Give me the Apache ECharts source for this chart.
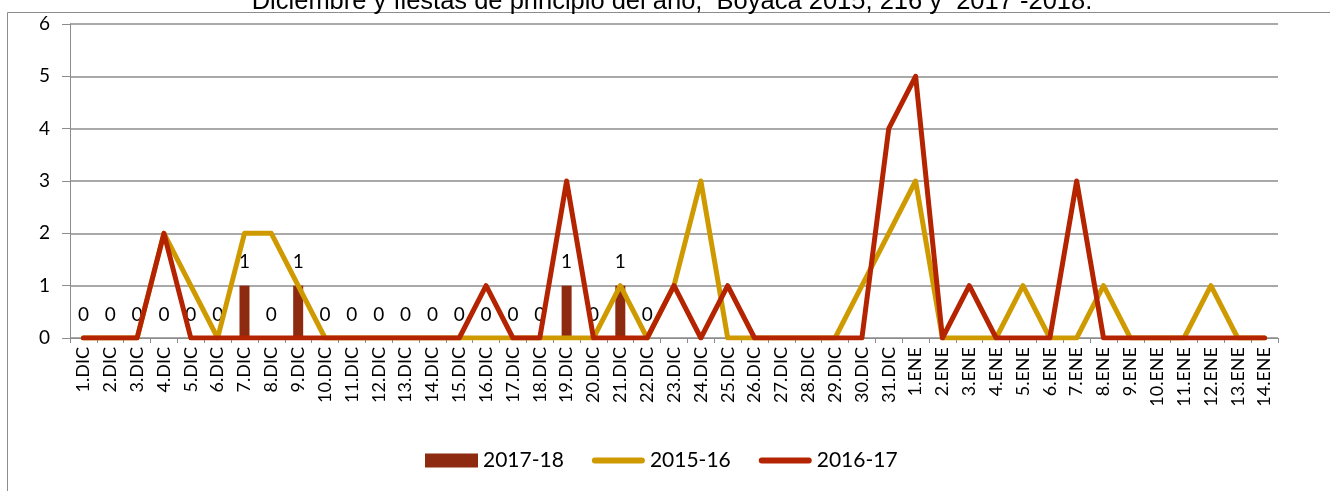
<!DOCTYPE html>
<html>
<head>
<meta charset="utf-8">
<script src="https://cdn.jsdelivr.net/npm/echarts@6/dist/echarts.min.js"></script>
<style>html,body{margin:0;padding:0;background:#fff}#c{width:1330px;height:491px}</style>
</head>
<body>
<div id="c"></div>
<script>
const categories = ["1.DIC","2.DIC","3.DIC","4.DIC","5.DIC","6.DIC","7.DIC","8.DIC","9.DIC","10.DIC","11.DIC","12.DIC","13.DIC","14.DIC","15.DIC","16.DIC","17.DIC","18.DIC","19.DIC","20.DIC","21.DIC","22.DIC","23.DIC","24.DIC","25.DIC","26.DIC","27.DIC","28.DIC","29.DIC","30.DIC","31.DIC","1.ENE","2.ENE","3.ENE","4.ENE","5.ENE","6.ENE","7.ENE","8.ENE","9.ENE","10.ENE","11.ENE","12.ENE","13.ENE","14.ENE"];
const s2017_18 = [0,0,0,0,0,0,1,0,1,0,0,0,0,0,0,0,0,0,1,0,1,0];
const s2015_16 = [0,0,0,2,1,0,2,2,1,0,0,0,0,0,0,0,0,0,0,0,1,0,1,3,0,0,0,0,0,1,2,3,0,0,0,1,0,0,1,0,0,0,1,0,0];
const s2016_17 = [0,0,0,2,0,0,0,0,0,0,0,0,0,0,0,1,0,0,3,0,0,0,1,0,1,0,0,0,0,0,4,5,0,1,0,0,0,3,0,0,0,0,0,0,0];
const yTicks = [0,1,2,3,4,5,6];
const titleText = "Diciembre y fiestas de principio del año,  Boyacá 2015, 216 y  2017 -2018.";

const lineIcon = 'path://M3,0 H50 A3,3 0 0 1 50,6 H3 A3,3 0 0 1 3,0 Z';

const chart = echarts.init(document.getElementById('c'));
chart.setOption({
  animation: false,
  backgroundColor: '#fff',
  title: {
    text: titleText, left: 667, textAlign: 'center', top: -16,
    textStyle: {fontFamily: 'Liberation Sans', fontSize: 25.5, fontWeight: 'normal', color: '#000'}
  },
  graphic: [{
    type: 'rect', left: 5, top: 10, z: -1,
    shape: {width: 1340, height: 500},
    style: {fill: 'none', stroke: '#8c8c8c', lineWidth: 1}
  }],
  legend: {
    top: 445, left: 420, itemGap: 28, itemWidth: 53, itemHeight: 14,
    symbolKeepAspect: true,
    textStyle: {fontFamily: 'Lato', fontSize: 21, color: '#000'},
    data: [
      {name: '2017-18', icon: 'rect'},
      {name: '2015-16', icon: lineIcon},
      {name: '2016-17', icon: lineIcon}
    ]
  },
  grid: {left: 70, right: 52, top: 24, bottom: 153},
  xAxis: {
    type: 'category', data: categories, boundaryGap: true,
    axisLine: {lineStyle: {color: '#8c8c8c', width: 1}},
    axisTick: {show: true, alignWithLabel: false, length: 5, lineStyle: {color: '#8c8c8c'}},
    axisLabel: {rotate: 90, interval: 0, fontFamily: 'Lato', fontSize: 18, color: '#000', margin: 9}
  },
  yAxis: {
    type: 'value', min: yTicks[0], max: yTicks[yTicks.length-1], interval: 1,
    axisLine: {show: true, lineStyle: {color: '#8c8c8c'}},
    axisTick: {show: true, length: 8, lineStyle: {color: '#8c8c8c'}},
    axisLabel: {fontFamily: 'Lato', fontSize: 19, color: '#000', margin: 20},
    splitLine: {lineStyle: {color: '#8c8c8c', width: 1.5}}
  },
  series: [
    {
      name: '2017-18', type: 'bar', data: s2017_18, barWidth: 10,
      itemStyle: {color: '#8e2a10'},
      label: {show: true, position: 'top', distance: 14, fontFamily: 'Lato', fontSize: 19, color: '#000'}
    },
    {
      name: '2015-16', type: 'line', data: s2015_16, symbol: 'none',
      lineStyle: {color: '#cf9a00', width: 5, cap: 'round', join: 'round'},
      itemStyle: {color: '#cf9a00'}
    },
    {
      name: '2016-17', type: 'line', data: s2016_17, symbol: 'none',
      lineStyle: {color: '#b52400', width: 5, cap: 'round', join: 'round'},
      itemStyle: {color: '#b52400'}
    }
  ]
});
</script>
</body>
</html>
